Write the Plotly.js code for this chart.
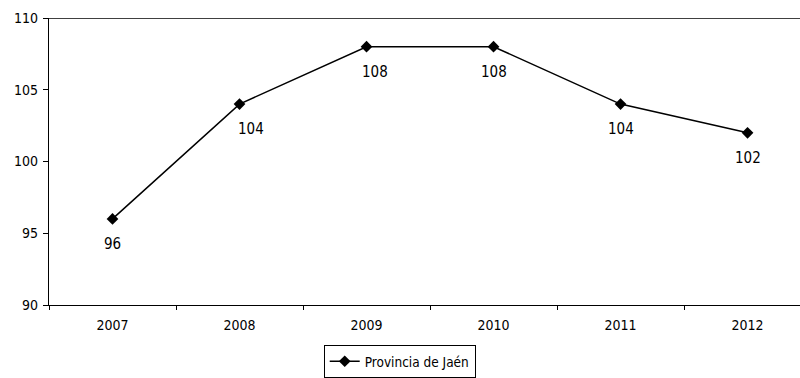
<!DOCTYPE html>
<html><head><meta charset="utf-8">
<script src="https://cdn.plot.ly/plotly-3.0.1.min.js"></script>
<style>html,body{margin:0;padding:0;background:#fff}</style>
</head><body>
<div id="chart" style="width:800px;height:378px"></div>
<script>
const years = ['2007','2008','2009','2010','2011','2012'];
const values = [96, 104, 108, 108, 104, 102];
const seriesName = 'Provincia de Jaén';
const yTicks = [90, 95, 100, 105, 110];
const labelXShift = [0, 11, 8, 0, 0, 0];

const FONT = 'DejaVu Sans Condensed, DejaVu Sans, sans-serif';
const FS = 14;

const trace = {
  x: years, y: values, type: 'scatter', mode: 'lines+markers', name: seriesName,
  line: {color: '#000', width: 1.5},
  marker: {symbol: 'diamond', size: 9, color: '#000'},
  cliponaxis: false
};

const annotations = years.map((yr, i) => ({
  x: i, y: values[i], xref: 'x', yref: 'y', text: String(values[i]),
  showarrow: false, yshift: -25, xshift: labelXShift[i],
  font: {family: FONT, size: 15, color: '#000'}
}));

const layout = {
  width: 800, height: 378,
  margin: {l: 49, r: 0, t: 18, b: 72},
  paper_bgcolor: '#fff', plot_bgcolor: '#fff',
  font: {family: FONT, size: FS, color: '#000'},
  showlegend: true,
  legend: {x: 0.467, xanchor: 'center', y: -0.139, yanchor: 'top', orientation: 'h',
    itemwidth: 30, bordercolor: '#000', borderwidth: 1,
    font: {family: FONT, size: 13.5, color: '#000'}},
  xaxis: {type: 'category', range: [-0.5, 5.413], showgrid: false, zeroline: false,
    showline: true, linecolor: '#000', linewidth: 1.3,
    ticks: 'outside', tickson: 'boundaries', ticklen: 4, tickcolor: '#000', tickwidth: 1,
    ticklabelstandoff: 7,
    tickfont: {family: FONT, size: FS, color: '#000'}},
  yaxis: {range: [90, 110], tickvals: yTicks, showgrid: false, zeroline: false,
    showline: true, linecolor: '#000', linewidth: 1.3,
    ticks: 'outside', ticklen: 5, tickcolor: '#000', tickwidth: 1,
    ticklabelstandoff: 2,
    tickfont: {family: FONT, size: FS, color: '#000'}},
  shapes: [{type: 'line', xref: 'paper', yref: 'y', x0: 0, x1: 1,
    y0: yTicks[yTicks.length-1], y1: yTicks[yTicks.length-1],
    line: {color: '#000', width: 1.3}}],
  annotations: annotations
};

Plotly.newPlot('chart', [trace], layout, {displayModeBar: false});
</script>
</body></html>
